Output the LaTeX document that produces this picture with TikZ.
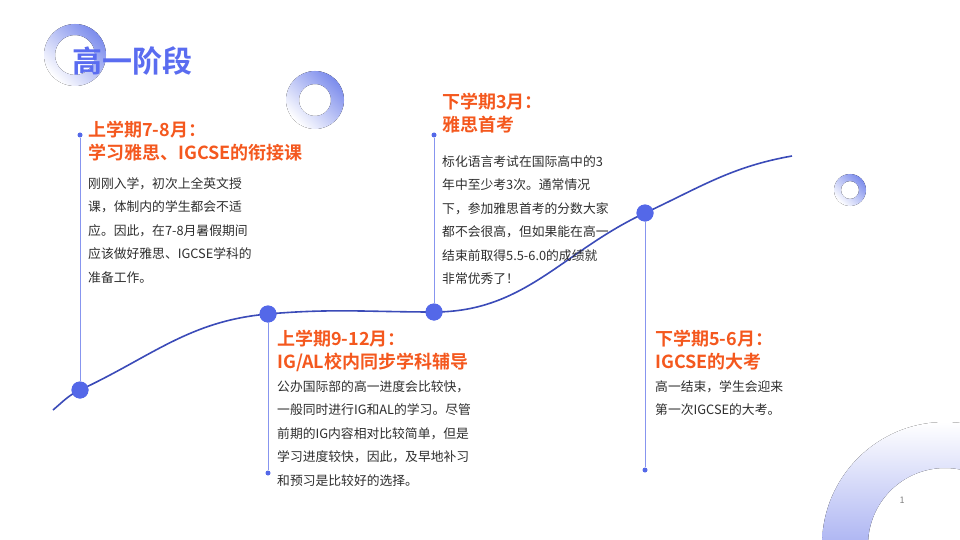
\documentclass[tikz,border=0pt]{standalone}
\usepackage{fontspec}
\setmainfont{Noto Sans CJK SC}
\newfontfamily\cjkbold{Noto Sans CJK SC Bold}
\usetikzlibrary{positioning}
\definecolor{deepblue}{HTML}{3B4BB8}
\definecolor{dotblue}{HTML}{5468E8}
\definecolor{titleblue}{HTML}{5A6CF0}
\definecolor{headorange}{HTML}{F4581E}
\definecolor{bodygray}{HTML}{2E2E2E}
\definecolor{ringblue}{HTML}{7C8CEC}
\definecolor{ringdeep}{HTML}{5A6AE6}
\begin{document}
\begin{tikzpicture}[x=1pt,y=-1pt,
  stage/.style={circle, fill=dotblue, minimum size=17pt, inner sep=0pt},
  tip/.style={circle, fill=dotblue, minimum size=5pt, inner sep=0pt},
  stem/.style={dotblue!70, line width=0.8pt},
  heading/.style={anchor=north west, text=headorange, font=\cjkbold\fontsize{18}{22.5}\selectfont, align=left, inner sep=0pt},
  body/.style={anchor=north west, text=bodygray, font=\fontsize{12.8}{23.5}\selectfont, align=left, inner sep=0pt},
  ring/.style={even odd rule, left color=ringblue, right color=white, shading angle=-45}]
  \useasboundingbox (0,0) rectangle (960,540);
  % decorative rings
  \fill[ring] (75,55) circle (31) (75,55) circle (20);
  \fill[ring] (315,100) circle (29) (315,100) circle (16);
  \fill[ring] (850,190) circle (16) (850,190) circle (9);
  \begin{scope}
    \clip (0,0) rectangle (960,540);
    \fill[ring, left color=white, right color=ringdeep, shading angle=0] (945,545) circle (123) (945,545) circle (77);
  \end{scope}
  \node[anchor=west, text=titleblue, font=\cjkbold\fontsize{30}{34}\selectfont, inner sep=0pt] (title) at (72,61) {高一阶段};
  \node[text=gray, font=\fontsize{9}{10}\selectfont] (page) at (902,500) {1};
  % timeline
  \coordinate (start) at (53,410);
  \coordinate (finish) at (792,156);
  \node[stage] (s1) at (80,390) {};
  \node[stage] (s2) at (268,314) {};
  \node[stage] (s3) at (434,312) {};
  \node[stage] (s4) at (645,213) {};
  \node[tip] (t1) at (80,135) {};
  \node[tip] (t2) at (268,473) {};
  \node[tip] (t3) at (434,135) {};
  \node[tip] (t4) at (645,470) {};
  \draw[stem] (t1) -- (s1);
  \draw[stem] (s2) -- (t2);
  \draw[stem] (t3) -- (s3);
  \draw[stem] (s4) -- (t4);
  \draw[deepblue, line width=1.6pt] (start) to[out=40, in=205] (s1.center)
    to[out=25, in=185] (s2.center) to[out=5, in=180] (s3.center)
    to[out=0, in=205] (s4.center) to[out=25, in=190] (finish);
  \foreach \s in {s1,s2,s3,s4} \node[stage] at (\s) {};
  % texts
  \node[heading] (h1) at (88,121) {上学期7-8月：\\学习雅思、IGCSE的衔接课};
  \node[body] (b1) at (88,177) {刚刚入学，初次上全英文授\\课，体制内的学生都会不适\\应。因此，在7-8月暑假期间\\应该做好雅思、IGCSE学科的\\准备工作。};
  \node[heading] (h2) at (277,330) {上学期9-12月：\\IG/AL校内同步学科辅导};
  \node[body] (b2) at (277,380) {公办国际部的高一进度会比较快，\\一般同时进行IG和AL的学习。尽管\\前期的IG内容相对比较简单，但是\\学习进度较快，因此，及早地补习\\和预习是比较好的选择。};
  \node[heading] (h3) at (442,93) {下学期3月：\\雅思首考};
  \node[body] (b3) at (442,155) {标化语言考试在国际高中的3\\年中至少考3次。通常情况\\下，参加雅思首考的分数大家\\都不会很高，但如果能在高一\\结束前取得5.5-6.0的成绩就\\非常优秀了！};
  \node[heading] (h4) at (655,330) {下学期5-6月：\\IGCSE的大考};
  \node[body] (b4) at (655,380) {高一结束，学生会迎来\\第一次IGCSE的大考。};
\end{tikzpicture}
\end{document}
